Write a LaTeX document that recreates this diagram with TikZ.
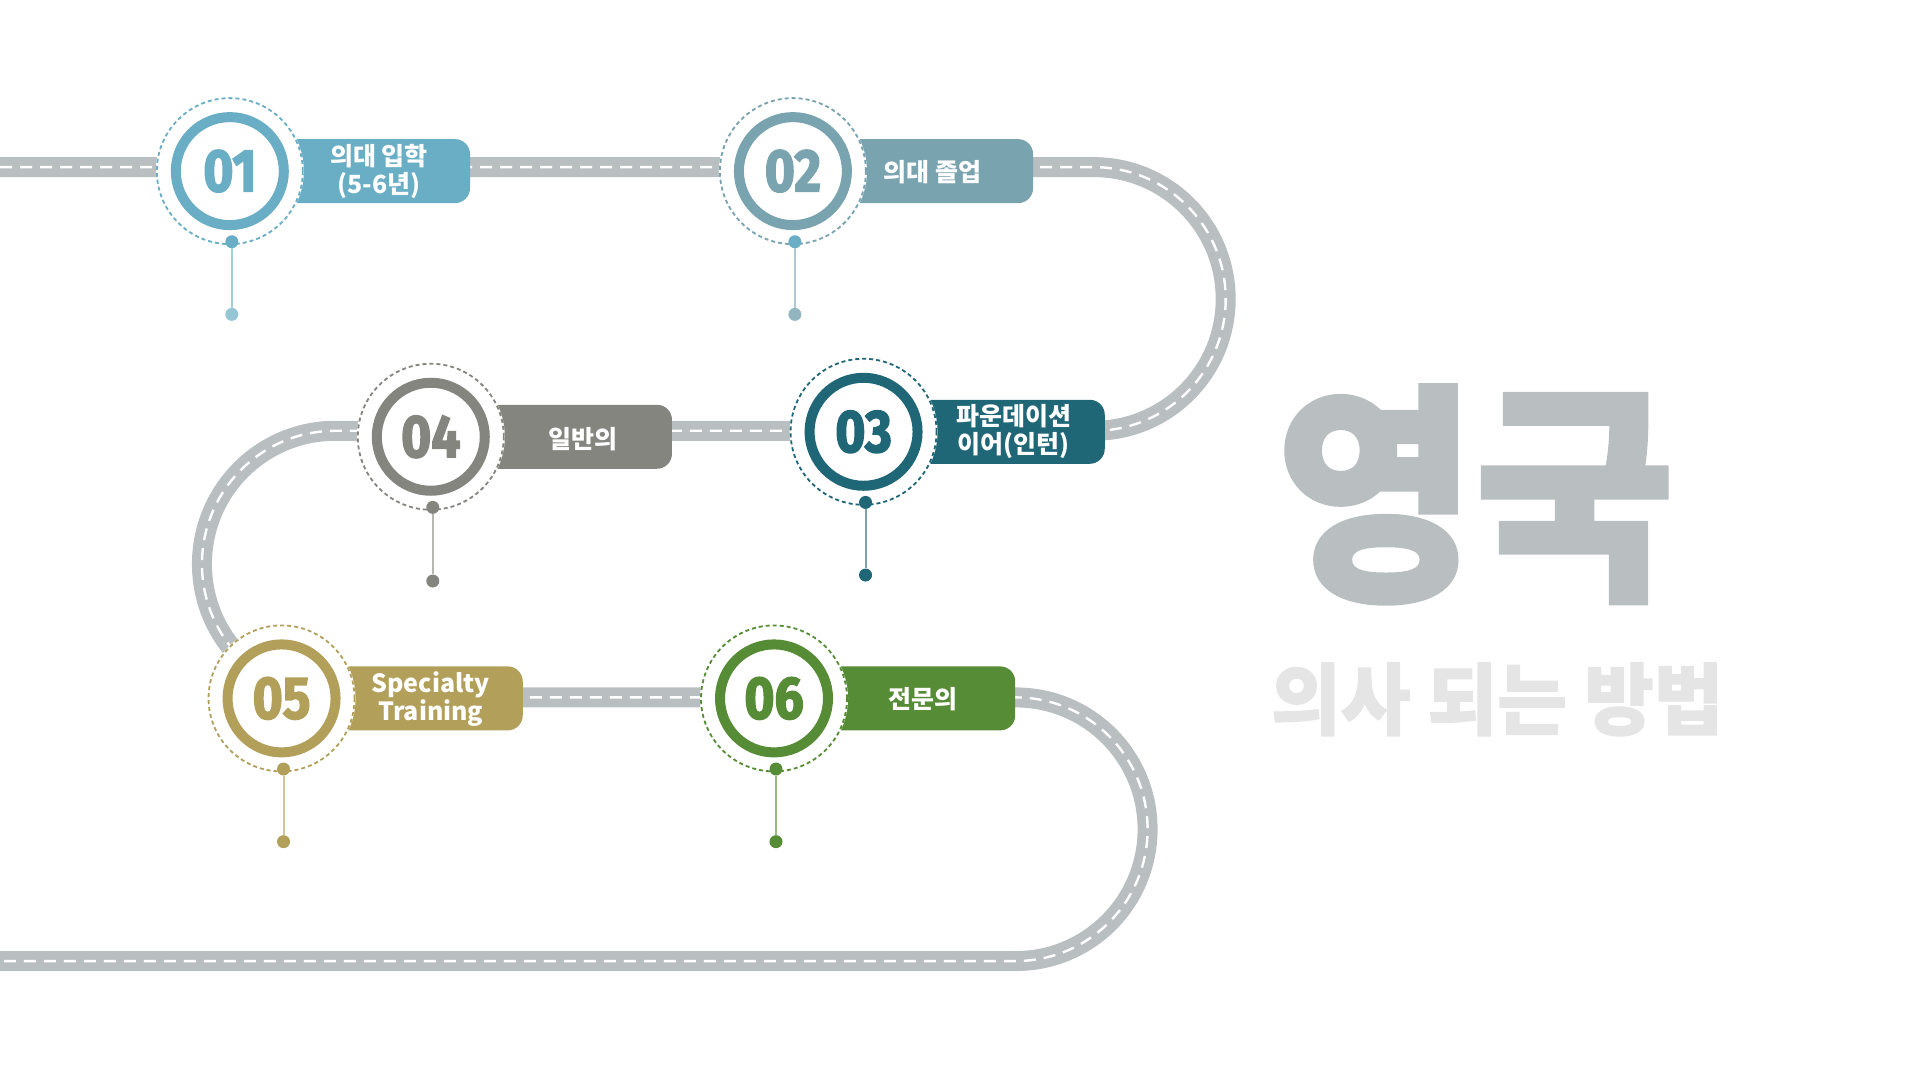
\documentclass[tikz,border=0pt]{standalone}
\usepackage{fontspec}
\setmainfont{Noto Sans CJK KR}
\newfontfamily\numfont[FakeStretch=0.86, BoldFeatures={FakeBold=2.5}]{Fira Sans}
\newfontfamily\titlefont[FakeStretch=0.93, BoldFeatures={FakeBold=2}]{Noto Sans CJK KR}
\newfontfamily\subfont[FakeStretch=0.97, BoldFeatures={FakeBold=1.5}]{Noto Sans CJK KR}
\definecolor{roadgray}{HTML}{B9BEC0}
\definecolor{colA}{HTML}{69AEC5}
\definecolor{colB}{HTML}{78A3AF}
\definecolor{colC}{HTML}{1F6677}
\definecolor{colD}{HTML}{858580}
\definecolor{colE}{HTML}{B2A05A}
\definecolor{colF}{HTML}{578C36}
\definecolor{titlegray}{HTML}{B9BEC0}
\definecolor{subgray}{HTML}{E5E5E5}
\tikzset{
  road/.style={line width=20pt, draw=roadgray},
  roaddash/.style={line width=2.4pt, draw=white, dash pattern=on 12pt off 8pt},
  disc/.style={circle, fill=white, minimum size=148pt, inner sep=0pt},
  ring/.style={circle, draw=#1, line width=10pt, minimum size=108pt, inner sep=0pt},
  dashring/.style={circle, draw=#1, line width=1.8pt, dash pattern=on 4pt off 3pt, minimum size=146pt, inner sep=0pt},
  numtext/.style={text=#1, inner sep=0pt, font=\numfont\bfseries\fontsize{60}{60}\selectfont},
  labelbox/.style={fill=#1, rounded corners=15pt, inner sep=0pt, minimum height=64pt, anchor=west},
  labeltext/.style={text=white, inner sep=0pt, align=center, font=\bfseries\fontsize{25}{28}\selectfont},
  pindot/.style={circle, fill=#1, minimum size=13pt, inner sep=0pt},
  pinline/.style={draw=#1, line width=2pt},
  bigtitle/.style={text=titlegray, inner sep=0pt, font=\titlefont\bfseries\fontsize{232}{232}\selectfont},
  subtitle/.style={text=subgray, inner sep=0pt, font=\subfont\bfseries\fontsize{78}{78}\selectfont},
}
\begin{document}
\begin{tikzpicture}[x=0.99488pt,y=-0.99488pt]
\useasboundingbox (0,0) rectangle (1929.9,1085.56);
% road
\def\roadpath{(0,168) -- (1099.5,168) arc[start angle=-90,end angle=90,radius=132.5] -- (337,433) arc[start angle=-90,end angle=-270,radius=134] -- (1021,701) arc[start angle=-90,end angle=90,radius=132.5] -- (0,966)}
\draw[road] \roadpath;
\draw[roaddash] \roadpath;
% boxes
\node[labelbox=colA, minimum width=240pt] (b1) at (231,172) {};
\node[labelbox=colB, minimum width=240pt] (b2) at (797,172) {};
\node[labelbox=colC, minimum width=241pt] (b3) at (868,434) {};
\node[labelbox=colD, minimum width=241pt] (b4) at (433,439) {};
\node[labelbox=colE, minimum width=241pt] (b5) at (283,702) {};
\node[labelbox=colF, minimum width=241pt] (b6) at (778,702) {};
% discs
\foreach \p in {(231,172),(797,172),(868,434),(433,439),(283,702),(778,702)}
  \node[disc] at \p {};
% dashed rings and rings
\node[dashring=colA] (d1) at (231,172) {};
\node[dashring=colB] (d2) at (797,172) {};
\node[dashring=colC] (d3) at (868,434) {};
\node[dashring=colD] (d4) at (433,439) {};
\node[dashring=colE] (d5) at (283,702) {};
\node[dashring=colF] (d6) at (778,702) {};
\node[ring=colA] (c1) at (231,172) {};
\node[ring=colB] (c2) at (797,172) {};
\node[ring=colC] (c3) at (868,434) {};
\node[ring=colD] (c4) at (433,439) {};
\node[ring=colE] (c5) at (283,702) {};
\node[ring=colF] (c6) at (778,702) {};
% numbers
\node[numtext=colA] (n1) at (c1) {01};
\node[numtext=colB] (n2) at (c2) {02};
\node[numtext=colC] (n3) at (c3) {03};
\node[numtext=colD] (n4) at (c4) {04};
\node[numtext=colE] (n5) at (c5) {05};
\node[numtext=colF] (n6) at (c6) {06};
% label texts
\node[labeltext] (t1) at (381,172) {의대 입학\\(5-6년)};
\node[labeltext] (t2) at (937,173) {의대 졸업};
\node[labeltext] (t3) at (1019,434) {파운데이션\\이어(인턴)};
\node[labeltext] (t4) at (586,441) {일반의};
\node[labeltext] (t5) at (433,703) {Specialty\\Training};
\node[labeltext] (t6) at (928,703) {전문의};
% pins
\node[pindot=colA!70!white] (p1b) at (233,316) {};
\node[pindot=colB!80!white] (p2b) at (799,316) {};
\node[pindot=colC] (p3b) at (870,578) {};
\node[pindot=colD] (p4b) at (435,584) {};
\node[pindot=colE] (p5b) at (285,846) {};
\node[pindot=colF] (p6b) at (780,846) {};
\node[pindot=colA] (p1a) at (233,243) {};
\node[pindot=colA] (p2a) at (799,243) {};
\node[pindot=colC] (p3a) at (870,505) {};
\node[pindot=colD] (p4a) at (435,510) {};
\node[pindot=colE] (p5a) at (285,773) {};
\node[pindot=colF] (p6a) at (780,773) {};
\draw[pinline=colA!60!white] (p1a) -- (p1b);
\draw[pinline=colB!60!white] (p2a) -- (p2b);
\draw[pinline=colC!60!white] (p3a) -- (p3b);
\draw[pinline=colD!60!white] (p4a) -- (p4b);
\draw[pinline=colE!60!white] (p5a) -- (p5b);
\draw[pinline=colF!60!white] (p6a) -- (p6b);
% title
\node[bigtitle] (title) at (1483,497) {영국};
\node[subtitle] (sub) at (1505,703) {의사 되는 방법};
\end{tikzpicture}
\end{document}
